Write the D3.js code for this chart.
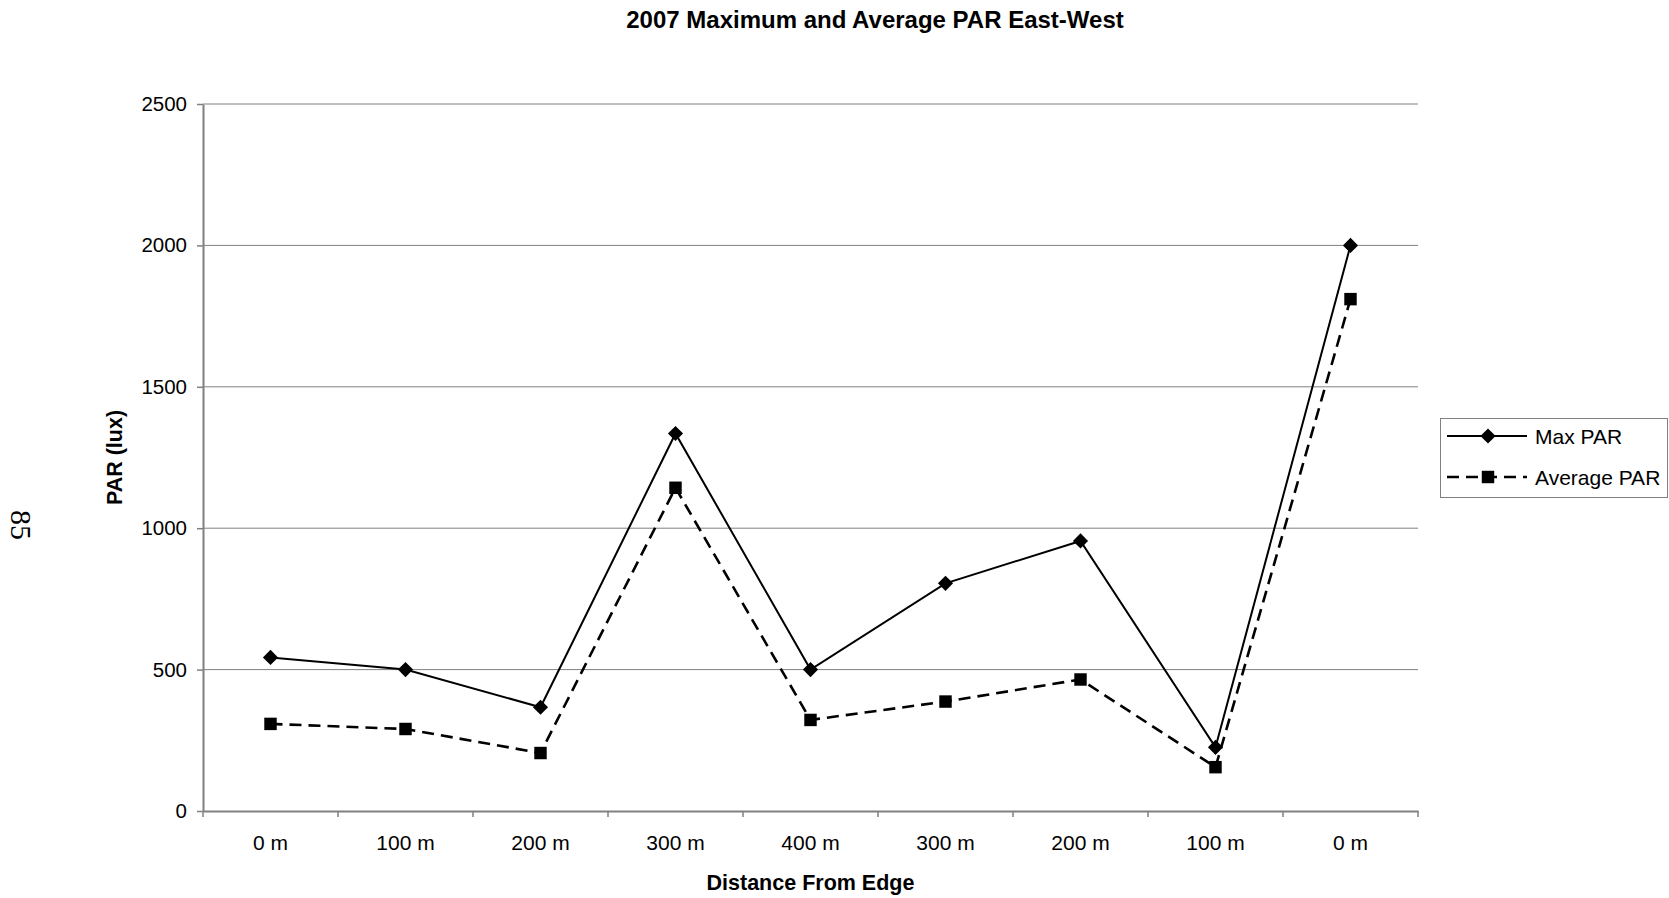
<!DOCTYPE html>
<html>
<head>
<meta charset="utf-8">
<script src="https://cdn.jsdelivr.net/npm/d3@7"></script>
<style>
  html, body { margin: 0; padding: 0; background: #fff; }
  svg { display: block; font-family: "Liberation Sans", Arial, sans-serif; }
</style>
</head>
<body>
<svg id="chart" width="1669" height="898"></svg>
<script>
// Distance along the east-west transect (edge -> centre -> edge)
const categories = ["0 m", "100 m", "200 m", "300 m", "400 m", "300 m", "200 m", "100 m", "0 m"];
const maxPAR = [543, 500, 367, 1335, 500, 805, 955, 225, 2000];
const avgPAR = [308, 290, 205, 1143, 322, 387, 465, 155, 1810];
const yTicks = [0, 500, 1000, 1500, 2000, 2500];
const seriesNames = ["Max PAR", "Average PAR"];

const svg = d3.select("#chart");
const plot = { left: 203, right: 1418, top: 104, bottom: 811 };
const grey = "#808080";

const x = d3.scaleBand()
  .domain(d3.range(categories.length))
  .range([plot.left, plot.right])
  .paddingInner(0).paddingOuter(0);

const y = d3.scaleLinear().domain([0, 2500]).range([plot.bottom, plot.top]);

// Horizontal gridlines
svg.append("g")
  .selectAll("line")
  .data(yTicks.filter(v => v > 0))
  .join("line")
  .attr("x1", plot.left).attr("x2", plot.right)
  .attr("y1", d => y(d)).attr("y2", d => y(d))
  .attr("stroke", grey).attr("stroke-width", 1);

// Y axis
const yAxis = svg.append("g")
  .attr("transform", `translate(${plot.left},0)`)
  .call(d3.axisLeft(y).tickValues(yTicks).tickFormat(d3.format("d"))
    .tickSize(6).tickPadding(10).tickSizeOuter(0));
yAxis.select(".domain").attr("stroke", grey).attr("stroke-width", 2);
yAxis.selectAll(".tick line").attr("stroke", grey).attr("stroke-width", 1.5);
yAxis.selectAll(".tick text")
  .attr("font-size", 20.5).attr("fill", "#000")
  .attr("font-family", "Liberation Sans, Arial, sans-serif");

// X axis: labels centred in each category, tick marks on category boundaries
const xAxis = svg.append("g")
  .attr("transform", `translate(0,${plot.bottom})`)
  .call(d3.axisBottom(x).tickFormat(i => categories[i]).tickSize(0).tickPadding(24).tickSizeOuter(0));
xAxis.select(".domain").attr("stroke", grey).attr("stroke-width", 2);
xAxis.selectAll(".tick text")
  .attr("font-size", 21).attr("fill", "#000")
  .attr("font-family", "Liberation Sans, Arial, sans-serif");

const boundaries = x.domain().map(i => x(i)).concat([x.range()[1]]);
svg.append("g")
  .selectAll("line")
  .data(boundaries)
  .join("line")
  .attr("x1", d => d).attr("x2", d => d)
  .attr("y1", plot.bottom).attr("y2", plot.bottom + 6)
  .attr("stroke", grey).attr("stroke-width", 1.5);

// Series
const cx = i => x(i) + x.bandwidth() / 2;
const line = d3.line().x((d, i) => cx(i)).y(d => y(d));

const diamond = d3.symbol().type(d3.symbolSquare).size(115);
const square = d3.symbol().type(d3.symbolSquare).size(155);

svg.append("path")
  .datum(maxPAR)
  .attr("d", line)
  .attr("fill", "none").attr("stroke", "#000").attr("stroke-width", 2);

svg.append("path")
  .datum(avgPAR)
  .attr("d", line)
  .attr("fill", "none").attr("stroke", "#000").attr("stroke-width", 2.6)
  .attr("stroke-dasharray", "12,7");

svg.append("g")
  .selectAll("path")
  .data(maxPAR)
  .join("path")
  .attr("d", diamond)
  .attr("transform", (d, i) => `translate(${cx(i)},${y(d)}) rotate(45)`)
  .attr("fill", "#000");

svg.append("g")
  .selectAll("path")
  .data(avgPAR)
  .join("path")
  .attr("d", square)
  .attr("transform", (d, i) => `translate(${cx(i)},${y(d)})`)
  .attr("fill", "#000");

// Titles
svg.append("text")
  .attr("x", 875).attr("y", 27.5)
  .attr("text-anchor", "middle")
  .attr("font-size", 24).attr("font-weight", "bold")
  .text("2007 Maximum and Average PAR East-West");

svg.append("text")
  .attr("x", (plot.left + plot.right) / 2).attr("y", 890)
  .attr("text-anchor", "middle")
  .attr("font-size", 21.5).attr("font-weight", "bold")
  .text("Distance From Edge");

svg.append("text")
  .attr("transform", `translate(122,${(plot.top + plot.bottom) / 2}) rotate(-90)`)
  .attr("text-anchor", "middle")
  .attr("font-size", 21.5).attr("font-weight", "bold")
  .text("PAR (lux)");

// Page number printed sideways in the margin
svg.append("text")
  .attr("transform", "translate(11,525) rotate(90)")
  .attr("text-anchor", "middle")
  .attr("font-family", "Liberation Serif, Times New Roman, serif")
  .attr("font-size", 30)
  .text("85");

// Legend
const legend = svg.append("g").attr("transform", "translate(1440,418)");
legend.append("rect")
  .attr("x", 0.5).attr("y", 0.5).attr("width", 227).attr("height", 79)
  .attr("fill", "#fff").attr("stroke", grey).attr("stroke-width", 1);

const legendRows = [
  { name: seriesNames[0], dash: null, width: 2, sym: diamond, rot: 45 },
  { name: seriesNames[1], dash: "12,7", width: 2.6, sym: square, rot: 0 }
];
legendRows.forEach((r, k) => {
  const ly = 18 + k * 41;
  legend.append("line")
    .attr("x1", 7).attr("x2", 87).attr("y1", ly).attr("y2", ly)
    .attr("stroke", "#000").attr("stroke-width", r.width)
    .attr("stroke-dasharray", r.dash);
  legend.append("path")
    .attr("d", r.sym)
    .attr("transform", `translate(48,${ly}) rotate(${r.rot})`)
    .attr("fill", "#000");
  legend.append("text")
    .attr("x", 95).attr("y", ly + 7.5)
    .attr("font-size", 21)
    .text(r.name);
});
</script>
</body>
</html>
